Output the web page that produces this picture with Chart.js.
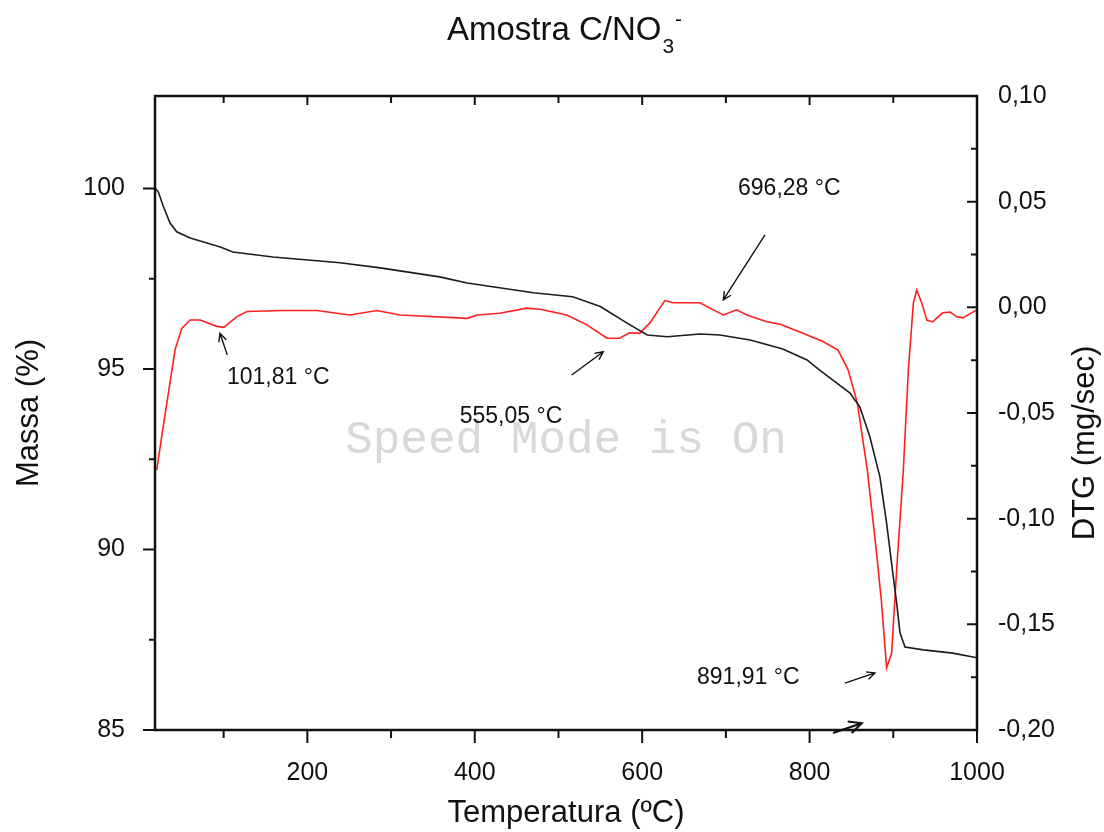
<!DOCTYPE html>
<html>
<head>
<meta charset="utf-8">
<script src="https://cdn.jsdelivr.net/npm/chart.js@4.4.0/dist/chart.umd.min.js"></script>
<style>
  html, body { margin: 0; padding: 0; background: #fff; }
  #wrap { width: 1104px; height: 832px; }
</style>
</head>
<body>
<div id="wrap"><canvas id="tga" width="1104" height="832"></canvas></div>
<script>
// TGA curve: temperature (C) and residual mass (%)
const massTemp = [18, 22, 28, 36, 44, 60, 96, 111, 159, 239, 287, 358, 391, 470, 517, 550, 582, 606,
  630, 669, 693, 729, 768, 797, 812, 848, 860, 872, 884, 892, 900, 904, 908, 914, 936, 971, 1000];
const massValues = [100.02, 99.9, 99.5, 99.04, 98.8, 98.63, 98.38, 98.24, 98.1, 97.94, 97.8, 97.55, 97.38,
  97.11, 97.0, 96.73, 96.27, 95.94, 95.89, 95.97, 95.94, 95.8, 95.55, 95.25, 94.97, 94.34, 93.95, 93.12,
  92.01, 90.73, 89.24, 88.52, 87.69, 87.3, 87.22, 87.13, 87.0];

// DTG curve: temperature (C) and mg/sec
const dtgTemp = [20, 28, 42, 50, 60, 72, 92, 100, 116, 128, 171, 211, 251, 283, 311, 391, 403, 430, 462,
  478, 510, 534, 558, 573, 585, 597, 609, 627, 637, 669, 685, 697, 713, 725, 749, 765, 789, 816, 834, 846,
  857, 869, 880, 886, 892, 898, 904, 912, 918, 924, 928, 934, 940, 947, 959, 968, 976, 983, 1000];
const dtgValues = [-0.077, -0.056, -0.020, -0.010, -0.006, -0.006, -0.009, -0.0095, -0.0044, -0.002,
  -0.0015, -0.0015, -0.0036, -0.0015, -0.0036, -0.0052, -0.0036, -0.0028, -0.0004, -0.0009, -0.0036,
  -0.0083, -0.0146, -0.0146, -0.012, -0.0123, -0.0075, 0.0032, 0.0022, 0.0022, -0.0012, -0.0036, -0.0012,
  -0.0036, -0.0068, -0.008, -0.0118, -0.0162, -0.0202, -0.0296, -0.0452, -0.077, -0.1162, -0.1399,
  -0.1707, -0.1636, -0.1243, -0.077, -0.0296, 0.0021, 0.0082, 0.0021, -0.006, -0.0069, -0.0026, -0.0022,
  -0.0045, -0.005, -0.0012];

// axis ticks
const xTicks = [200, 400, 600, 800, 1000];
const xMinorTicks = [100, 300, 500, 700, 900];
const massTicks = [85, 90, 95, 100];
const massMinorTicks = [87.5, 92.5, 97.5];
const dtgTicks = [-0.20, -0.15, -0.10, -0.05, 0.00, 0.05, 0.10];
const dtgMinorTicks = [-0.175, -0.125, -0.075, -0.025, 0.025, 0.075];

// peak labels, placed in temperature / DTG units
const peakNotes = [
  { text: '101,81 °C', tx: 104, ty: -0.0334, from: [104.3, -0.0225], to: [95.6, -0.0123] },
  { text: '555,05 °C', tx: 382, ty: -0.0519, from: [515.8, -0.032], to: [553.5, -0.021] },
  { text: '696,28 °C', tx: 714.5, ty: 0.056, from: [746.7, 0.0343], to: [696.9, 0.0035] },
  { text: '891,91 °C', tx: 665.5, ty: -0.1752, from: [842.3, -0.1778], to: [878.1, -0.173] },
  { text: '', from: [828, -0.2014], to: [862.2, -0.1968], bold: true }
];

const FONT = '"Liberation Sans", Arial, sans-serif';
const INK = '#111';

function arrow(ctx, x1, y1, x2, y2, head, width) {
  const a = Math.atan2(y2 - y1, x2 - x1);
  ctx.lineWidth = width;
  ctx.beginPath();
  ctx.moveTo(x1, y1);
  ctx.lineTo(x2, y2);
  ctx.moveTo(x2 - head * Math.cos(a - 0.45), y2 - head * Math.sin(a - 0.45));
  ctx.lineTo(x2, y2);
  ctx.lineTo(x2 - head * Math.cos(a + 0.45), y2 - head * Math.sin(a + 0.45));
  ctx.stroke();
}

const decor = {
  id: 'decor',
  beforeDatasetsDraw(chart) {
    const ctx = chart.ctx, area = chart.chartArea, y1 = chart.scales.y1;
    ctx.save();
    ctx.font = '46px "Liberation Mono", monospace';
    ctx.fillStyle = '#d8d8d8';
    ctx.textAlign = 'center';
    ctx.textBaseline = 'middle';
    ctx.fillText('Speed Mode is On', (area.left + area.right) / 2, y1.getPixelForValue(-0.063));
    ctx.restore();
  },
  afterDatasetsDraw(chart) {
    const ctx = chart.ctx, a = chart.chartArea;
    const x = chart.scales.x, y = chart.scales.y, y1 = chart.scales.y1;
    ctx.save();
    ctx.strokeStyle = INK;
    ctx.lineCap = 'butt';

    // frame
    ctx.lineWidth = 2.5;
    ctx.strokeRect(a.left, a.top, a.right - a.left, a.bottom - a.top);

    // ticks
    ctx.lineWidth = 2;
    ctx.beginPath();
    xTicks.forEach(v => {
      const p = x.getPixelForValue(v);
      ctx.moveTo(p, a.bottom); ctx.lineTo(p, a.bottom + 13);
      ctx.moveTo(p, a.top); ctx.lineTo(p, a.top + 9);
    });
    xMinorTicks.forEach(v => {
      const p = x.getPixelForValue(v);
      ctx.moveTo(p, a.bottom); ctx.lineTo(p, a.bottom + 8);
      ctx.moveTo(p, a.top); ctx.lineTo(p, a.top + 7);
    });
    massTicks.forEach(v => {
      const p = y.getPixelForValue(v);
      ctx.moveTo(a.left - 12, p); ctx.lineTo(a.left, p);
    });
    massMinorTicks.forEach(v => {
      const p = y.getPixelForValue(v);
      ctx.moveTo(a.left - 6, p); ctx.lineTo(a.left, p);
    });
    dtgTicks.forEach(v => {
      const p = y1.getPixelForValue(v);
      ctx.moveTo(a.right - 10, p); ctx.lineTo(a.right, p);
    });
    dtgMinorTicks.forEach(v => {
      const p = y1.getPixelForValue(v);
      ctx.moveTo(a.right - 6, p); ctx.lineTo(a.right, p);
    });
    ctx.stroke();

    // peak notes
    ctx.fillStyle = INK;
    ctx.font = '23px ' + FONT;
    ctx.textAlign = 'left';
    ctx.textBaseline = 'middle';
    peakNotes.forEach(n => {
      if (n.text) ctx.fillText(n.text, x.getPixelForValue(n.tx), y1.getPixelForValue(n.ty));
      arrow(ctx, x.getPixelForValue(n.from[0]), y1.getPixelForValue(n.from[1]),
        x.getPixelForValue(n.to[0]), y1.getPixelForValue(n.to[1]),
        n.bold ? 14 : 9, n.bold ? 2.2 : 1.4);
    });

    // title with sub/superscript
    const mid = (a.left + a.right) / 2 - 3;
    ctx.font = '33px ' + FONT;
    const main = 'Amostra C/NO';
    const w = ctx.measureText(main).width;
    ctx.font = '21px ' + FONT;
    const ws = ctx.measureText('3').width;
    const left = mid - (w + ws + 6) / 2;
    ctx.textBaseline = 'alphabetic';
    ctx.font = '33px ' + FONT;
    ctx.fillText(main, left, 40);
    ctx.font = '21px ' + FONT;
    ctx.fillText('3', left + w + 1, 53);
    ctx.fillText('-', left + w + ws + 2, 26);

    // right axis title, reading upward
    ctx.save();
    ctx.translate(1085, (a.top + a.bottom) / 2 + 30);
    ctx.rotate(-Math.PI / 2);
    ctx.font = '31px ' + FONT;
    ctx.textAlign = 'center';
    ctx.textBaseline = 'middle';
    ctx.fillText('DTG (mg/sec)', 0, 0);
    ctx.restore();

    ctx.restore();
  }
};

const tickFont = { family: FONT, size: 25 };
const titleFont = { family: FONT, size: 31 };

new Chart(document.getElementById('tga'), {
  type: 'line',
  data: {
    datasets: [
      {
        label: 'Massa',
        data: massTemp.map((t, i) => ({ x: t, y: massValues[i] })),
        yAxisID: 'y',
        borderColor: '#1c1c1c',
        borderWidth: 1.6,
        pointRadius: 0,
        tension: 0,
        order: 1
      },
      {
        label: 'DTG',
        data: dtgTemp.map((t, i) => ({ x: t, y: dtgValues[i] })),
        yAxisID: 'y1',
        borderColor: '#ff1f1f',
        borderWidth: 1.6,
        pointRadius: 0,
        tension: 0,
        order: 2
      }
    ]
  },
  options: {
    responsive: false,
    devicePixelRatio: 1,
    animation: false,
    layout: { padding: { top: 96, left: 0, right: 0, bottom: 0 } },
    plugins: { legend: { display: false }, tooltip: { enabled: false } },
    scales: {
      x: {
        type: 'linear',
        min: 18,
        max: 1000,
        afterBuildTicks: s => { s.ticks = xTicks.map(v => ({ value: v })); },
        afterFit: s => { s.height = 102; },
        grid: { display: false },
        border: { display: false },
        ticks: { font: tickFont, color: INK, padding: 20, maxRotation: 0, autoSkip: false,
          callback: v => String(v) },
        title: { display: true, text: 'Temperatura (ºC)', font: titleFont, color: INK,
          padding: { top: 0, bottom: 0 } }
      },
      y: {
        position: 'left',
        min: 85,
        max: 102.56,
        afterBuildTicks: s => { s.ticks = massTicks.map(v => ({ value: v })); },
        afterFit: s => { s.width = 155; },
        grid: { display: false },
        border: { display: false },
        ticks: { font: tickFont, color: INK, padding: 22, callback: v => String(v) },
        title: { display: true, text: 'Massa (%)', font: titleFont, color: INK,
          padding: { top: 11, bottom: 0 } }
      },
      y1: {
        position: 'right',
        min: -0.2,
        max: 0.1,
        afterBuildTicks: s => { s.ticks = dtgTicks.map(v => ({ value: v })); },
        afterFit: s => { s.width = 127; },
        grid: { display: false },
        border: { display: false },
        ticks: { font: tickFont, color: INK, padding: 13,
          callback: v => v.toFixed(2).replace('.', ',') }
      }
    }
  },
  plugins: [decor]
});
</script>
</body>
</html>
